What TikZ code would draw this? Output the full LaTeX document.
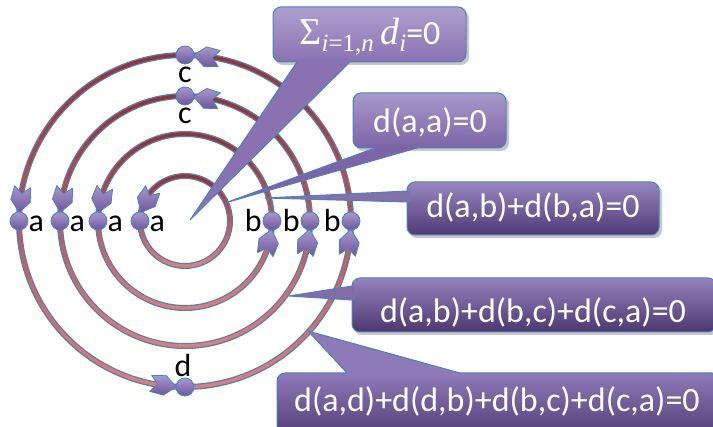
\documentclass[tikz,border=0pt]{standalone}
\usepackage{fontspec}
\setmainfont{Carlito}
\newfontfamily\serifm{Liberation Serif}
\definecolor{ringblue}{RGB}{79,129,189}
\definecolor{ringdark}{RGB}{150,50,48}
\definecolor{ringlight}{RGB}{222,128,122}
\definecolor{dottop}{RGB}{168,152,204}
\definecolor{dotbot}{RGB}{110,86,156}
\definecolor{cAtop}{RGB}{174,160,206}
\definecolor{cAbot}{RGB}{138,114,178}
\definecolor{cBtop}{RGB}{168,152,202}
\definecolor{cBbot}{RGB}{124,100,166}
\definecolor{cCtop}{RGB}{152,134,192}
\definecolor{cCbot}{RGB}{78,58,116}
\definecolor{cDtop}{RGB}{150,130,190}
\definecolor{cDbot}{RGB}{76,56,112}
\definecolor{cEtop}{RGB}{142,122,184}
\definecolor{cEbot}{RGB}{78,58,116}
\tikzset{
  ringout/.style={draw=ringblue, line width=6pt},
  dotnode/.style={circle, draw=ringblue, line width=0.8pt, minimum size=18pt, inner sep=0pt, top color=dottop, bottom color=dotbot},
  arrowhd/.style={draw=ringblue, line width=0.8pt, top color=dottop, bottom color=dotbot, line join=round},
  lbl/.style={font=\fontsize{32}{32}\selectfont, inner sep=0pt, text=black},
  ctext/.style={font=\fontsize{34}{34}\selectfont, text=white, inner sep=0pt},
  cline/.style={draw=ringblue, line width=1pt, line join=round},
  cbox/.style={draw=ringblue, line width=1pt, rounded corners=8pt},
  shadowc/.style={fill=black, opacity=0.22, rounded corners=8pt}
}
\newcommand\subsc[1]{\raisebox{-7pt}{\fontsize{25}{25}\selectfont #1}}
\newcommand\arrowHd[2]{%
  \pgfmathsetmacro\tipA{#2-8.5/#1*57.2958}%
  \pgfmathsetmacro\tiltA{-13/#1*57.2958}%
  \begin{scope}[shift={(185,221)}, rotate=\tipA]
    \path[arrowhd, rotate around={\tiltA:(#1,0)}] (#1,0) -- (#1+10,12) -- (#1+8,26) -- (#1,19) -- (#1-8,26) -- (#1-10,12) -- cycle;
  \end{scope}}
\begin{document}
\begin{tikzpicture}[x=1pt,y=-1pt]
\useasboundingbox (0,0) rectangle (713,427);
\clip (0,0) rectangle (713,427);
% rings
\foreach \rr in {45,87,125,166}{
  \draw[ringout] (185,221) circle[radius=\rr];
  \foreach \k in {0,...,35}{
    \pgfmathsetmacro\sa{10*\k-0.4}
    \pgfmathsetmacro\ea{10*\k+10.4}
    \pgfmathtruncatemacro\lp{50*(1+sin(10*\k+5))}
    \draw[draw=ringlight!\lp!ringdark, line width=3.4pt] ([shift={(\sa:\rr)}]185,221) arc[start angle=\sa, end angle=\ea, radius=\rr];
  }
}
% arrowheads
\arrowHd{45}{180}
\arrowHd{87}{180}
\arrowHd{87}{360}
\arrowHd{125}{180}
\arrowHd{125}{360}
\arrowHd{125}{90}
\arrowHd{166}{180}
\arrowHd{166}{360}
\arrowHd{166}{90}
\arrowHd{166}{270}
% dots
\node[dotnode] (a1) at (140,221) {};
\node[dotnode] (a2) at (98,221) {};
\node[dotnode] (b2) at (272,221) {};
\node[dotnode] (a3) at (60,221) {};
\node[dotnode] (b3) at (310,221) {};
\node[dotnode] (c3) at (185,96) {};
\node[dotnode] (a4) at (19,221) {};
\node[dotnode] (b4) at (351,221) {};
\node[dotnode] (c4) at (185,55) {};
\node[dotnode] (d4) at (185,387) {};
% labels
\node[lbl, anchor=base west] (la1) at (149.5,232) {a};
\node[lbl, anchor=base west] (la2) at (107.5,232) {a};
\node[lbl, anchor=base west] (la3) at (69.5,232) {a};
\node[lbl, anchor=base west] (la4) at (28.5,232) {a};
\node[lbl, anchor=base east] (lb2) at (262,232) {b};
\node[lbl, anchor=base east] (lb3) at (300,232) {b};
\node[lbl, anchor=base east] (lb4) at (341,232) {b};
\node[lbl, anchor=base] (lc3) at (185,124) {c};
\node[lbl, anchor=base] (lc4) at (185,83) {c};
\node[lbl, anchor=base] (ld4) at (183,377) {d};
% wedge tips
\coordinate (tip1) at (190,220);
\coordinate (tip2) at (225,203);
\coordinate (tip3) at (265,198);
\coordinate (tip4) at (289,296);
\coordinate (tip5) at (308,331);
% callout 1
\fill[shadowc] (275,10) rectangle (469,65);
\path[cbox, top color=cAtop, bottom color=cAbot] (273,7) rectangle (466,62);
\fill[cAbot] (297,62) -- (tip1) -- (350,62) -- (350,59) -- (297,59) -- cycle;
\draw[cline] (297,62) -- (tip1) -- (350,62);
\node[ctext, anchor=base] (t1) at (370,45) {{\serifm\fontsize{38}{38}\selectfont Σ\subsc{\textit{i}=1,\textit{n}}\,\textit{d}\subsc{\textit{i}}}=0};
% callout 2
\fill[shadowc] (355,96) rectangle (509,151);
\path[cbox, top color=cBtop, bottom color=cBbot] (353,93) rectangle (506,148);
\fill[cBbot] (375,148) -- (tip2) -- (417,148) -- (417,145) -- (375,145) -- cycle;
\draw[cline] (375,148) -- (tip2) -- (417,148);
\node[ctext, anchor=base] (t2) at (430,133) {d(a,a)=0};
% callout 3
\fill[shadowc] (409,185) rectangle (662,238);
\path[cbox, top color=cCtop, bottom color=cCbot] (407,182) rectangle (659,235);
\fill[cCtop!72!cCbot] (407,191) -- (tip3) -- (407,202) -- (410,202) -- (410,191) -- cycle;
\draw[cline] (407,191) -- (tip3) -- (407,202);
\node[ctext, anchor=base] (t3) at (533,218) {d(a,b)+d(b,a)=0};
% callout 4
\fill[shadowc] (354,281) rectangle (719,335);
\path[cbox, top color=cDtop, bottom color=cDbot] (352,278) rectangle (716,332);
\fill[cDtop!72!cDbot] (352,286) -- (tip4) -- (352,300) -- (355,300) -- (355,286) -- cycle;
\draw[cline] (352,286) -- (tip4) -- (352,300);
\node[ctext, anchor=base] (t4) at (533,323) {d(a,b)+d(b,c)+d(c,a)=0};
% callout 5
\fill[shadowc] (279,376) rectangle (723,443);
\path[cbox, top color=cEtop, bottom color=cEbot] (277,373) rectangle (720,440);
\fill[cEtop] (347,373) -- (tip5) -- (460,373) -- (460,376) -- (347,376) -- cycle;
\draw[cline] (347,373) -- (tip5) -- (460,373);
\node[ctext, anchor=base] (t5) at (497,412) {d(a,d)+d(d,b)+d(b,c)+d(c,a)=0};
\end{tikzpicture}
\end{document}
